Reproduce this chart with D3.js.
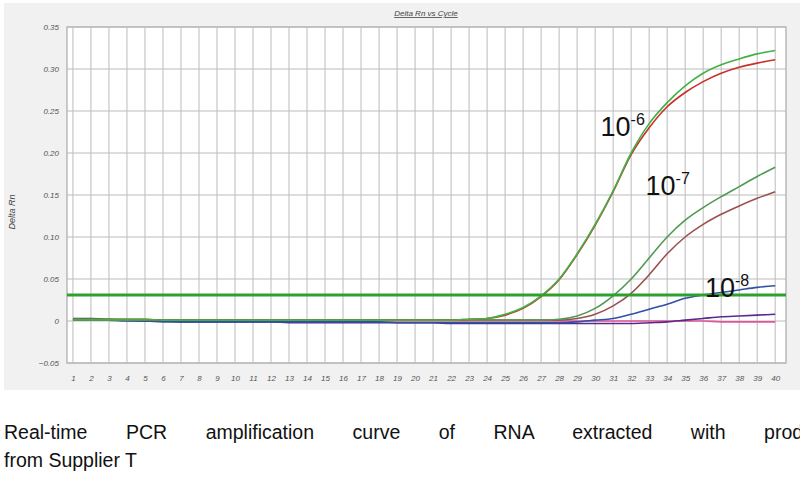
<!DOCTYPE html>
<html><head><meta charset="utf-8">
<script src="https://cdn.jsdelivr.net/npm/d3@7"></script>
<style>body{margin:0;background:#fff}</style>
</head><body>
<svg id="c" width="800" height="483"></svg>
<script>
// cycles 1..40
const cycles = d3.range(1, 41);
const g6 = [0.002,0.002,0.002,0.002,0.002,0.001,0.001,0.001,0.001,0.001,0.001,0.001,0.001,0.001,0.001,0.001,0.001,0.001,0.001,0.001,0.001,0.001,0.002,0.003,0.008,0.016,0.03,0.05,0.08,0.115,0.155,0.2,0.235,0.26,0.28,0.295,0.305,0.312,0.318,0.322];
const r6 = [0.002,0.002,0.002,0.002,0.002,0.001,0.001,0.001,0.001,0.001,0.001,0.001,0.001,0.001,0.001,0.001,0.001,0.001,0.001,0.001,0.001,0.001,0.002,0.003,0.007,0.015,0.029,0.049,0.079,0.114,0.154,0.198,0.23,0.255,0.272,0.285,0.295,0.302,0.307,0.311];
const g7 = [0.001,0.001,0.001,0.001,0.001,0.001,0.001,0.001,0.001,0.001,0.001,0.001,0.001,0.001,0.001,0.001,0.001,0.001,0.001,0.001,0.001,0.001,0.001,0.001,0.001,0.001,0.001,0.002,0.006,0.015,0.03,0.05,0.075,0.1,0.12,0.135,0.148,0.16,0.172,0.183];
const b7 = [0.001,0.001,0.001,0.001,0.001,0.001,0.001,0.001,0.001,0.001,0.001,0.001,0.001,0.001,0.001,0.001,0.001,0.001,0.001,0.001,0.001,0.001,0.001,0.001,0.001,0.001,0.001,0.001,0.003,0.008,0.018,0.033,0.055,0.08,0.1,0.115,0.127,0.137,0.146,0.154];
const bl8 = [0.002,0.002,0.001,0.0,0.0,-0.001,-0.001,-0.001,-0.001,-0.001,-0.001,-0.001,-0.001,-0.001,-0.001,-0.001,-0.001,-0.001,-0.002,-0.002,-0.002,-0.002,-0.002,-0.002,-0.002,-0.002,-0.002,-0.002,-0.001,0.001,0.003,0.008,0.014,0.02,0.027,0.031,0.034,0.037,0.04,0.042];
const pu = [0.003,0.003,0.002,0.001,0.0,0.0,-0.001,-0.001,-0.001,-0.001,-0.001,-0.001,-0.002,-0.002,-0.002,-0.002,-0.002,-0.002,-0.002,-0.002,-0.002,-0.003,-0.003,-0.003,-0.003,-0.003,-0.003,-0.003,-0.003,-0.003,-0.003,-0.003,-0.002,-0.001,0.001,0.003,0.005,0.006,0.007,0.008];
const pk = [0.002,0.002,0.001,0.001,0.0,0.0,0.0,0.0,0.0,0.0,0.0,0.0,0.0,0.0,0.0,0.0,0.0,0.0,0.0,0.0,0.0,0.0,0.0,0.0,0.0,0.0,0.0,0.0,0.0,0.0,0.0,0.0,0.0,0.0,0.0,0.0,-0.001,-0.001,-0.001,-0.001];
const series = [
  {v: pk, c: "#e0559a"}, {v: pu, c: "#5a2a8a"}, {v: bl8, c: "#2f4fa8"},
  {v: b7, c: "#9a5050"}, {v: g7, c: "#4f9a50"},
  {v: r6, c: "#c8302a"}, {v: g6, c: "#44b044"}
];
const yTicks = [-0.05, 0, 0.05, 0.10, 0.15, 0.20, 0.25, 0.30, 0.35];
const threshold = 0.031;
const labels = [{t:"6", x:30.3, y:0.22}, {t:"7", x:32.8, y:0.15}, {t:"8", x:36.1, y:0.029}];

const svg = d3.select("#c");
svg.append("rect").attr("x",4).attr("y",3).attr("width",796).attr("height",387).attr("fill","#f1f1f1");
const x = d3.scaleLinear().domain([0.67, 40.6]).range([67, 786]);
const y = d3.scaleLinear().domain([-0.05, 0.35]).range([363, 27]);
svg.append("rect").attr("x",67).attr("y",27).attr("width",719).attr("height",336).attr("fill","#fff").attr("stroke","#999");

const grid = svg.append("g").attr("stroke","#bbb").attr("stroke-width",1);
cycles.forEach(c => grid.append("line").attr("x1",x(c)).attr("x2",x(c)).attr("y1",27).attr("y2",363));
yTicks.forEach(t => grid.append("line").attr("x1",67).attr("x2",786).attr("y1",y(t)).attr("y2",y(t)));

const xa = svg.append("g").attr("transform","translate(0,363)")
  .call(d3.axisBottom(x).tickValues(cycles).tickSize(0).tickPadding(12).tickFormat(d3.format("d")));
const ya = svg.append("g").attr("transform","translate(67,0)")
  .call(d3.axisLeft(y).tickValues(yTicks).tickSize(0).tickPadding(8)
    .tickFormat(d => d === 0 ? "0" : d3.format(".2f")(d)));
[xa, ya].forEach(a => { a.select(".domain").remove();
  a.selectAll("text").attr("font-family","Arial").attr("font-size",8).attr("font-style","italic").attr("fill","#555"); });

svg.append("text").attr("x",426).attr("y",16).attr("text-anchor","middle").attr("font-family","Arial")
  .attr("font-size",8).attr("font-style","italic").attr("text-decoration","underline").attr("fill","#444").text("Delta Rn vs Cycle");
svg.append("text").attr("transform","translate(15,212) rotate(-90)").attr("text-anchor","middle").attr("font-family","Arial")
  .attr("font-size",9).attr("font-style","italic").attr("fill","#444").text("Delta Rn");

const line = d3.line().x((d,i) => x(cycles[i])).y(d => y(d)).curve(d3.curveMonotoneX);
series.forEach(s => svg.append("path").attr("d", line(s.v)).attr("fill","none").attr("stroke",s.c).attr("stroke-width",1.6));

svg.append("line").attr("x1",67).attr("x2",786).attr("y1",y(threshold)).attr("y2",y(threshold))
  .attr("stroke","#2ea02e").attr("stroke-width",3);

labels.forEach(l => {
  const t = svg.append("text").attr("x",x(l.x)).attr("y",y(l.y)).attr("font-family","Arial").attr("font-size",27).attr("fill","#111");
  t.append("tspan").text("10");
  t.append("tspan").attr("font-size",16).attr("dy",-11).text("-" + l.t);
});

// justified caption: spread words by word-spacing
const cap1 = svg.append("text").attr("x",4).attr("y",439).attr("font-family","Arial").attr("font-size",19.5).attr("fill","#111")
  .text("Real-time PCR amplification curve of RNA extracted with product");
const len = cap1.node().getComputedTextLength();
cap1.attr("word-spacing", (792 - len) / 7);
svg.append("text").attr("x",4).attr("y",467).attr("font-family","Arial").attr("font-size",19.5).attr("fill","#111")
  .text("from Supplier T");
</script>
</body></html>
